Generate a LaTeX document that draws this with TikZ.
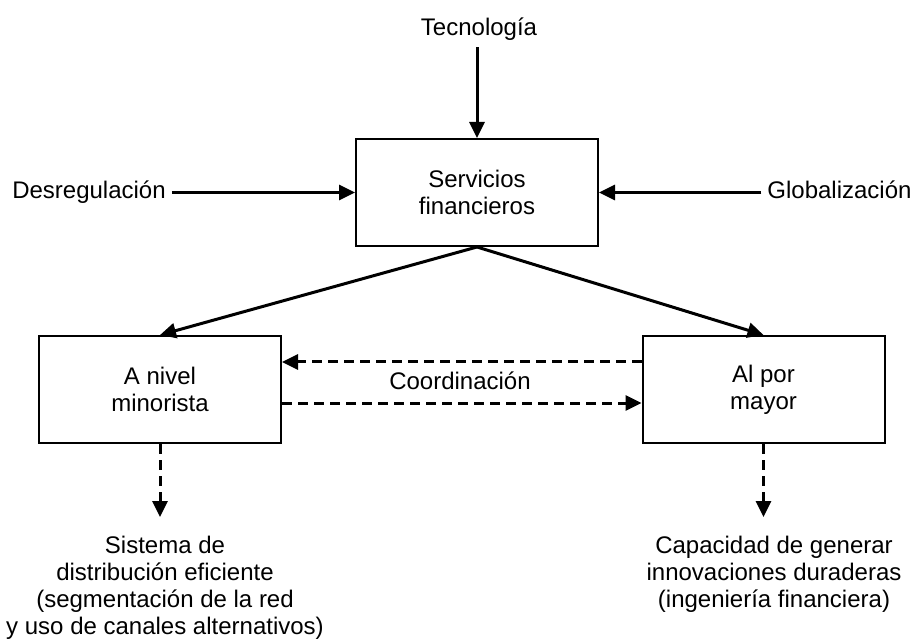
\documentclass[tikz,border=0pt]{standalone}
\usepackage{fontspec}
\setmainfont{Liberation Sans}
\usepackage{tikz}
\usetikzlibrary{arrows.meta,positioning}

\tikzset{
  box/.style={draw,line width=2pt,minimum width=242pt,minimum height=107pt,align=center,inner sep=0pt},
  lbl/.style={inner sep=6pt,text height=17pt,text depth=5pt},
  flow/.style={->,line width=3pt},
  link/.style={->,line width=3pt,dash pattern=on 10pt off 6pt},
}

\begin{document}
\begin{tikzpicture}[x=1pt,y=-1pt,>={Triangle[length=16pt,width=15pt]},font=\fontsize{24}{27}\selectfont]
\useasboundingbox (0,0) rectangle (914,639);
% boxes
\node[box] (serv) at (477,192.5) {Servicios\\financieros};
\node[box] (mino) at (160,389.5) {A nivel\\minorista};
\node[box] (mayor) at (763.5,389.5) {Al por\\mayor};
% driving forces
\node[lbl] (tec) at (479,30) {Tecnología};
\node[lbl] (desr) at (89,192.5) {Desregulación};
\node[lbl] (glob) at (839.5,192.5) {Globalización};
\draw[flow] (tec.south -| serv.north) -- (serv.north);
\draw[flow] (desr.east) -- (serv.west);
\draw[flow] (glob.west) -- (serv.east);
\draw[flow] (serv.south) -- (mino.north);
\draw[flow] (serv.south) -- (mayor.north);
% coordination
\node[lbl] (coord) at (460,383) {Coordinación};
\draw[link] ([yshift=27.5pt]mayor.west) -- ([yshift=27.5pt]mino.east);
\draw[link] ([yshift=-13.5pt]mino.east) -- ([yshift=-13.5pt]mayor.west);
% outcomes
\node[align=center,anchor=north,inner sep=6pt] (sist) at (165,529.5)
  {Sistema de\\distribución eficiente\\(segmentación de la red\\y uso de canales alternativos)};
\node[align=center,anchor=north,inner sep=6pt] (capa) at (774,529.5)
  {Capacidad de generar\\innovaciones duraderas\\(ingeniería financiera)};
\draw[link,shorten >=12.5pt] (mino.south) -- (mino.south |- sist.north);
\draw[link,shorten >=12.5pt] (mayor.south) -- (mayor.south |- capa.north);
\end{tikzpicture}
\end{document}
